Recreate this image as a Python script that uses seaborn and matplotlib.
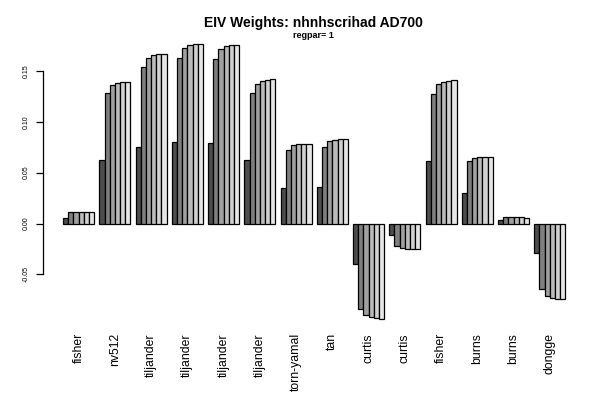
import pandas as pd
import matplotlib
matplotlib.use("Agg")
import matplotlib.pyplot as plt
import seaborn as sns

# datos
sites = ["fisher", "nv512", "tiljander", "tiljander", "tiljander", "tiljander",
         "torn-yamal", "tan", "curtis", "curtis", "fisher", "burns", "burns", "dongge"]
w1 = [0.005, 0.062, 0.075, 0.080, 0.079, 0.062, 0.035, 0.036, -0.040, -0.011, 0.061, 0.030, 0.003, -0.029]
w2 = [0.011, 0.128, 0.154, 0.163, 0.162, 0.128, 0.072, 0.075, -0.084, -0.022, 0.127, 0.061, 0.006, -0.064]
w3 = [0.011, 0.136, 0.163, 0.173, 0.172, 0.137, 0.077, 0.081, -0.090, -0.024, 0.137, 0.064, 0.006, -0.071]
w4 = [0.011, 0.138, 0.166, 0.176, 0.175, 0.140, 0.078, 0.082, -0.092, -0.025, 0.139, 0.065, 0.006, -0.073]
w5 = [0.011, 0.139, 0.167, 0.177, 0.176, 0.141, 0.078, 0.083, -0.093, -0.025, 0.140, 0.065, 0.006, -0.074]
w6 = [0.011, 0.139, 0.167, 0.177, 0.176, 0.142, 0.078, 0.083, -0.094, -0.025, 0.141, 0.065, 0.005, -0.074]
series = [w1, w2, w3, w4, w5, w6]
greys = ["#4D4D4D", "#7F7F7F", "#A0A0A0", "#BBBBBB", "#D1D1D1", "#E6E6E6"]
yticks = [-0.05, 0.00, 0.05, 0.10, 0.15]

rows = []
for k, vals in enumerate(series):
    for i, v in enumerate(vals):
        rows.append({"pos": str(i), "serie": str(k), "weight": v})
df = pd.DataFrame(rows)

sns.set_style("white")
plt.rcParams["font.family"] = ["Liberation Sans", "DejaVu Sans"]
plt.rcParams["text.color"] = "black"
plt.rcParams["xtick.color"] = "black"
plt.rcParams["ytick.color"] = "black"

fig = plt.figure(figsize=(6, 4.2), dpi=100)
ax = fig.add_axes([0.0717, 0.2136, 0.904, 0.7094])

sns.barplot(data=df, x="pos", y="weight", hue="serie", palette=greys,
            order=[str(i) for i in range(len(sites))],
            width=6 / 7, gap=0, saturation=1, edgecolor="black",
            linewidth=0.9, legend=False, ax=ax, errorbar=None)

ax.set_xlim(-3 / 7 - 3.88 / 7, len(sites) - 1 + 3 / 7 + 3.88 / 7)
ax.set_ylim(-0.105, 0.188)

for s in ["top", "right", "bottom"]:
    ax.spines[s].set_visible(False)
ax.spines["left"].set_bounds(-0.05, 0.15)
ax.spines["left"].set_color("black")
ax.spines["left"].set_linewidth(0.9)

ax.set_yticks(yticks)
ax.set_yticklabels(["%.2f" % t for t in yticks], rotation=90, va="center", fontsize=5)
ax.tick_params(axis="y", left=True, length=5, width=0.9, pad=4.5, color="black", labelcolor="black")

ax.set_xticks(range(len(sites)))
ax.set_xticklabels(sites, rotation=90, fontsize=8.8)
ax.tick_params(axis="x", bottom=False, length=0, pad=2, labelcolor="black")
ax.set_xlabel("")
ax.set_ylabel("")

fig.text(0.523, 1 - 23 / 420, "EIV Weights: nhnhscrihad AD700", ha="center", va="center",
         fontsize=10, fontweight="bold", color="black")
fig.text(0.523, 1 - 36 / 420, "regpar= 1", ha="center", va="center",
         fontsize=6.5, fontweight="bold", color="black")

fig.savefig("out.png", dpi=100)
